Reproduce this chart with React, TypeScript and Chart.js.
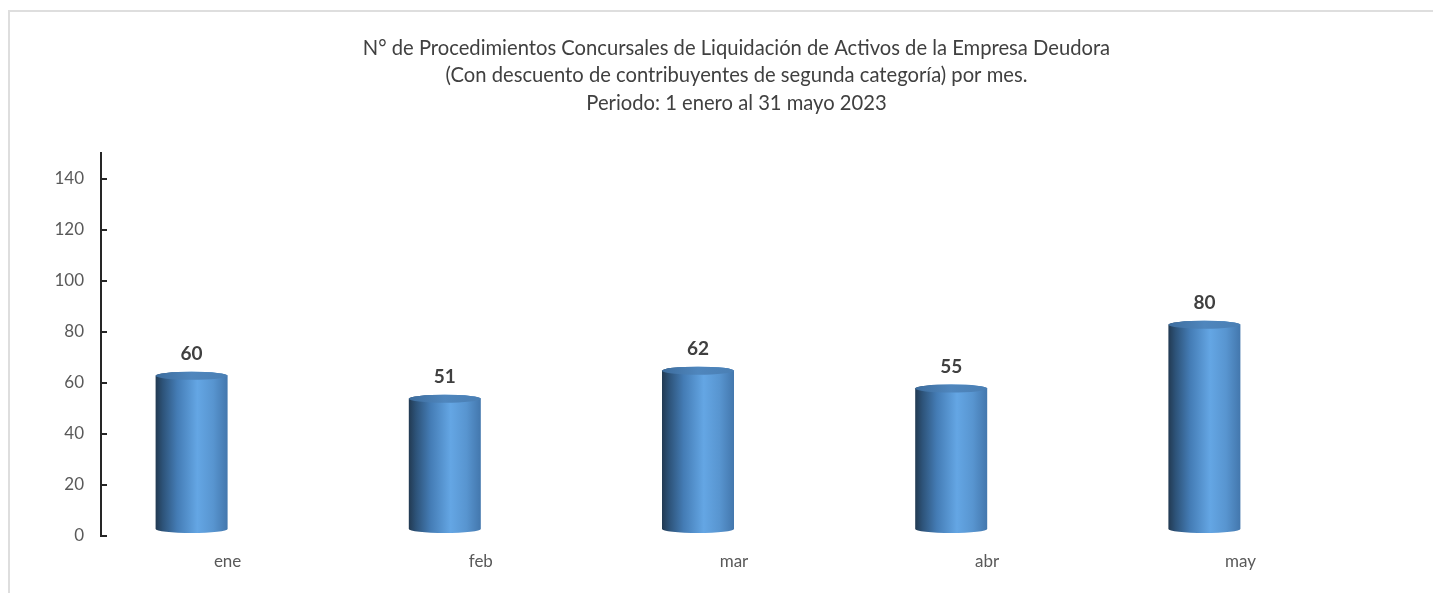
import React, { useEffect, useRef } from "react";
import { Chart, registerables } from "chart.js";

Chart.register(...registerables);

const TITLE_LINES = [
  "N° de Procedimientos Concursales de Liquidación de Activos de la Empresa Deudora",
  "(Con descuento de contribuyentes de segunda categoría) por mes.",
  "Periodo: 1 enero al 31 mayo 2023",
];
const MONTHS = ["ene", "feb", "mar", "abr", "may"];
const VALUES = [60, 51, 62, 55, 80];
const Y_TICKS = [0, 20, 40, 60, 80, 100, 120, 140];

const FONT = "Lato, 'Liberation Sans', sans-serif";

const cylinderPlugin = {
  id: "cylinders",
  afterDatasetsDraw(chart: any) {
    const { ctx, scales } = chart;
    const y = scales.y;
    const meta = chart.getDatasetMeta(0);
    const dx = -36;
    const dy = -7;
    const w = 72;
    const ry = 4;
    const base = y.getPixelForValue(0) + dy;
    ctx.save();
    meta.data.forEach((bar: any, i: number) => {
      const cx = bar.x + dx;
      const top = y.getPixelForValue(VALUES[i]) + dy;
      const left = cx - w / 2;
      const right = cx + w / 2;
      const g = ctx.createLinearGradient(left, 0, right, 0);
      g.addColorStop(0, "#223a52");
      g.addColorStop(0.1, "#2d5379");
      g.addColorStop(0.3, "#447cb5");
      g.addColorStop(0.58, "#64a6e4");
      g.addColorStop(0.8, "#5895d0");
      g.addColorStop(1, "#4377ad");
      ctx.beginPath();
      ctx.moveTo(left, top);
      ctx.lineTo(left, base);
      ctx.ellipse(cx, base, w / 2, ry, 0, Math.PI, 0, true);
      ctx.lineTo(right, top);
      ctx.ellipse(cx, top, w / 2, ry, 0, 0, Math.PI, true);
      ctx.closePath();
      ctx.fillStyle = g;
      ctx.fill();
      const tg = ctx.createLinearGradient(left, 0, right, 0);
      tg.addColorStop(0, "#3d6d9e");
      tg.addColorStop(0.5, "#4f86bd");
      tg.addColorStop(1, "#4a7fb4");
      ctx.beginPath();
      ctx.ellipse(cx, top, w / 2, ry, 0, 0, Math.PI * 2);
      ctx.fillStyle = tg;
      ctx.fill();
      ctx.fillStyle = "#404040";
      ctx.font = `bold 19px ${FONT}`;
      ctx.textAlign = "center";
      ctx.textBaseline = "middle";
      ctx.fillText(String(VALUES[i]), cx, top - 22);
    });
    ctx.restore();
  },
};

const axisExtrasPlugin = {
  id: "axisExtras",
  afterDraw(chart: any) {
    const { ctx, scales, chartArea } = chart;
    const y = scales.y;
    ctx.save();
    ctx.strokeStyle = "#262626";
    ctx.lineWidth = 2;
    Y_TICKS.forEach((v) => {
      const py = Math.round(y.getPixelForValue(v));
      ctx.beginPath();
      ctx.moveTo(chartArea.left, py);
      ctx.lineTo(chartArea.left + 6, py);
      ctx.stroke();
    });
    ctx.fillStyle = "#404040";
    ctx.font = `20.2px ${FONT}`;
    ctx.textAlign = "center";
    ctx.textBaseline = "middle";
    const cx = chart.width / 2 + 20;
    TITLE_LINES.forEach((t, i) => {
      ctx.fillText(t, cx, 48 + i * 27.5);
    });
    ctx.restore();
  },
};

export default function App() {
  const ref = useRef<HTMLCanvasElement | null>(null);
  useEffect(() => {
    if (!ref.current) return;
    const chart = new Chart(ref.current, {
      type: "bar",
      data: {
        labels: MONTHS,
        datasets: [
          {
            data: VALUES,
            backgroundColor: "rgba(0,0,0,0)",
            borderWidth: 0,
          },
        ],
      },
      options: {
        animation: false,
        responsive: false,
        events: [],
        layout: { padding: { top: 153, right: 66, left: 0, bottom: 0 } },
        plugins: {
          legend: { display: false },
          title: { display: false },
          tooltip: { enabled: false },
        },
        scales: {
          x: {
            grid: { display: false, drawTicks: false },
            border: { display: false },
            ticks: {
              color: "#595959",
              font: { family: FONT, size: 17 },
              padding: 15,
            },
            afterFit(scale: any) {
              scale.height = 57;
            },
          },
          y: {
            min: 0,
            max: 150,
            grid: { display: false, drawTicks: false },
            border: { display: true, color: "#262626", width: 2 },
            ticks: {
              stepSize: 20,
              color: "#595959",
              font: { family: FONT, size: 17 },
              padding: 17,
            },
            afterBuildTicks(scale: any) {
              scale.ticks = Y_TICKS.map((v) => ({ value: v }));
            },
            afterFit(scale: any) {
              scale.width = 101;
            },
          },
        },
      },
      plugins: [cylinderPlugin, axisExtrasPlugin],
    });
    return () => chart.destroy();
  }, []);
  return (
    <div style={{ position: "fixed", left: 0, top: 0, width: 1433, height: 593, background: "#fff" }}>
      <div
        style={{
          position: "absolute",
          left: 8,
          top: 10,
          width: 1425,
          height: 590,
          borderTop: "2px solid #dedede",
          borderLeft: "2px solid #dedede",
          boxSizing: "border-box",
        }}
      />
      <canvas ref={ref} width={1433} height={593} style={{ position: "absolute", left: 0, top: 0 }} />
    </div>
  );
}
